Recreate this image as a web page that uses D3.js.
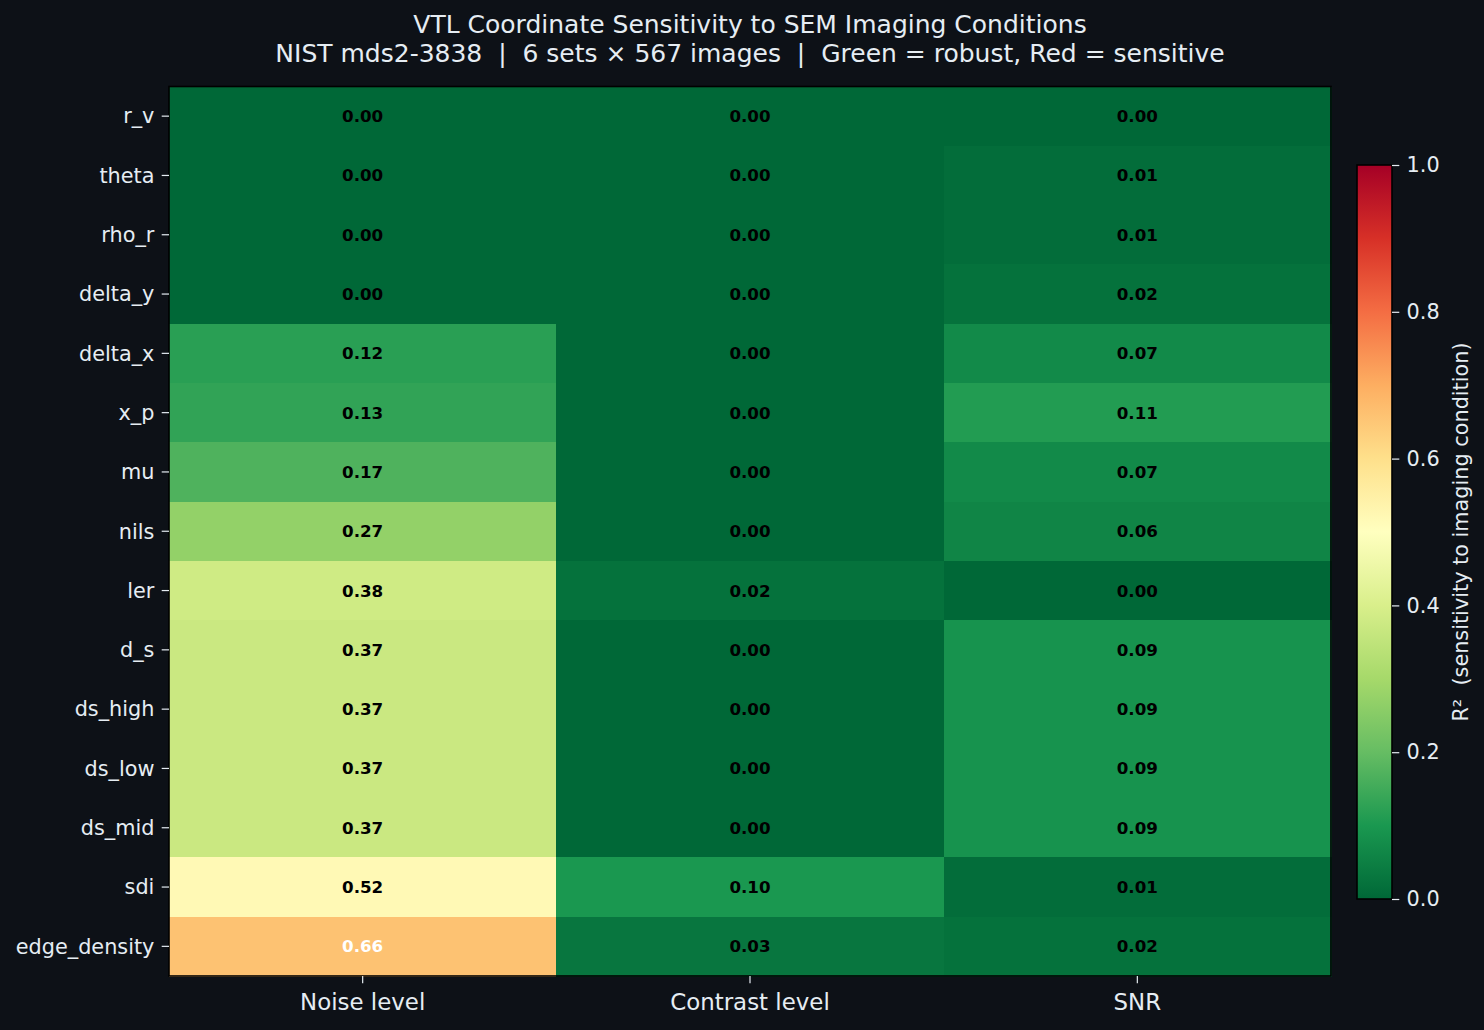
<!DOCTYPE html>
<html>
<head>
<meta charset="utf-8">
<script src="https://cdn.jsdelivr.net/npm/d3@7"></script>
<style>
  html, body { margin: 0; padding: 0; background: #0d1117; }
  svg text { font-family: "DejaVu Sans", sans-serif; }
</style>
</head>
<body>
<script>

/*
 * Heatmap of R² between VTL coordinates and imaging conditions.
 */

// Row labels (coordinates), top to bottom.
var coords = ['r_v', 'theta', 'rho_r', 'delta_y', 'delta_x', 'x_p', 'mu', 'nils',
  'ler', 'd_s', 'ds_high', 'ds_low', 'ds_mid', 'sdi', 'edge_density'];

// Column labels (imaging conditions).
var conditions = ['Noise level', 'Contrast level', 'SNR'];

// R² per condition, in row order.
var noiseR2 = [0.00, 0.00, 0.00, 0.00, 0.12, 0.13, 0.17, 0.27, 0.38, 0.37, 0.37, 0.37, 0.37, 0.52, 0.66];
var contrastR2 = [0.00, 0.00, 0.00, 0.00, 0.00, 0.00, 0.00, 0.00, 0.02, 0.00, 0.00, 0.00, 0.00, 0.10, 0.03];
var snrR2 = [0.00, 0.01, 0.01, 0.02, 0.07, 0.11, 0.07, 0.06, 0.00, 0.09, 0.09, 0.09, 0.09, 0.01, 0.02];

// Colorbar ticks.
var cbarTicks = [0.0, 0.2, 0.4, 0.6, 0.8, 1.0];

// RdYlGn anchors, reversed so that 0 is green.
var rdylgn = ['#a50026', '#d73027', '#f46d43', '#fdae61', '#fee08b', '#ffffbf',
  '#d9ef8b', '#a6d96a', '#66bd63', '#1a9850', '#006837'].reverse();

var W = 1484, H = 1030;
var bg = '#0d1117', fg = '#e6edf3';
var margin = { left: 169, right: 1331, top: 86.5, bottom: 976 };

var svg = d3.select('body').append('svg')
  .attr('width', W)
  .attr('height', H);

svg.append('rect').attr('width', W).attr('height', H).attr('fill', bg);

// Colour scale, linear between the 11 anchors.
var color = d3.scaleLinear()
  .domain(d3.range(11).map(function(i) { return i / 10; }))
  .range(rdylgn)
  .interpolate(d3.interpolateRgb)
  .clamp(true);

// Cells.
var series = [noiseR2, contrastR2, snrR2];
var cells = [];
series.forEach(function(vals, j) {
  vals.forEach(function(v, i) {
    cells.push({ row: coords[i], col: conditions[j], value: v });
  });
});

var x = d3.scaleBand().domain(conditions).range([margin.left, margin.right]);
var y = d3.scaleBand().domain(coords).range([margin.top, margin.bottom]);

var g = svg.append('g').attr('shape-rendering', 'crispEdges');

g.selectAll('rect.cell')
  .data(cells)
  .enter().append('rect')
  .attr('class', 'cell')
  .attr('x', function(d) { return x(d.col); })
  .attr('y', function(d) { return y(d.row); })
  .attr('width', x.bandwidth() + 1)
  .attr('height', y.bandwidth() + 1)
  .attr('fill', function(d) { return color(d.value); });

svg.selectAll('text.val')
  .data(cells)
  .enter().append('text')
  .attr('class', 'val')
  .attr('x', function(d) { return x(d.col) + x.bandwidth() / 2; })
  .attr('y', function(d) { return y(d.row) + y.bandwidth() / 2; })
  .attr('text-anchor', 'middle')
  .attr('dominant-baseline', 'central')
  .attr('font-size', '16.7px')
  .attr('font-weight', 'bold')
  .attr('fill', function(d) { return d.value > 0.6 ? '#ffffff' : '#000000'; })
  .text(function(d) { return d.value.toFixed(2); });

// Frame.
svg.append('rect')
  .attr('x', margin.left).attr('y', margin.top)
  .attr('width', margin.right - margin.left)
  .attr('height', margin.bottom - margin.top)
  .attr('fill', 'none').attr('stroke', '#000').attr('stroke-width', 1.6);

// Axes.
var xAxis = svg.append('g')
  .attr('transform', 'translate(0,' + margin.bottom + ')')
  .call(d3.axisBottom(x).tickSize(7.3).tickPadding(7.3));

var yAxis = svg.append('g')
  .attr('transform', 'translate(' + margin.left + ',0)')
  .call(d3.axisLeft(y).tickSize(7.3).tickPadding(7.3));

[xAxis, yAxis].forEach(function(ax) {
  ax.select('.domain').remove();
  ax.selectAll('.tick line').attr('stroke', fg).attr('stroke-width', 1.2);
  ax.selectAll('.tick text').attr('fill', fg).attr('font-family', '"DejaVu Sans", sans-serif');
});
xAxis.selectAll('.tick text').attr('font-size', '22.9px').attr('dy', '0.85em');
yAxis.selectAll('.tick text').attr('font-size', '20.8px').attr('dy', '0.35em');

// Colorbar.
var cb = { x: 1357, w: 35, top: 165, bottom: 899 };
var cy = d3.scaleLinear().domain([0, 1]).range([cb.bottom, cb.top]);

var defs = svg.append('defs');
var grad = defs.append('linearGradient')
  .attr('id', 'cbar')
  .attr('x1', 0).attr('y1', 1).attr('x2', 0).attr('y2', 0);
grad.selectAll('stop')
  .data(rdylgn)
  .enter().append('stop')
  .attr('offset', function(d, i) { return (i / 10 * 100) + '%'; })
  .attr('stop-color', function(d) { return d; });

svg.append('rect')
  .attr('x', cb.x).attr('y', cb.top)
  .attr('width', cb.w).attr('height', cb.bottom - cb.top)
  .attr('fill', 'url(#cbar)')
  .attr('stroke', '#000').attr('stroke-width', 1.6);

var cAxis = svg.append('g')
  .attr('transform', 'translate(' + (cb.x + cb.w) + ',0)')
  .call(d3.axisRight(cy).tickValues(cbarTicks).tickFormat(d3.format('.1f')).tickSize(7.3).tickPadding(7.3));
cAxis.select('.domain').remove();
cAxis.selectAll('.tick line').attr('stroke', fg).attr('stroke-width', 1.2);
cAxis.selectAll('.tick text')
  .attr('fill', fg)
  .attr('font-size', '20.8px')
  .attr('font-family', '"DejaVu Sans", sans-serif');

svg.append('text')
  .attr('transform', 'translate(1461,' + ((cb.top + cb.bottom) / 2) + ') rotate(-90)')
  .attr('text-anchor', 'middle')
  .attr('dominant-baseline', 'central')
  .attr('font-size', '20.8px')
  .attr('fill', fg)
  .style('white-space', 'pre')
  .text('R²  (sensitivity to imaging condition)');

// Title.
var title = svg.append('text')
  .attr('text-anchor', 'middle')
  .attr('font-size', '25px')
  .attr('fill', fg)
  .style('white-space', 'pre');
title.append('tspan').attr('x', 750).attr('y', 33)
  .text('VTL Coordinate Sensitivity to SEM Imaging Conditions');
title.append('tspan').attr('x', 750).attr('y', 62)
  .text('NIST mds2-3838  |  6 sets × 567 images  |  Green = robust, Red = sensitive');

</script>
</body>
</html>
